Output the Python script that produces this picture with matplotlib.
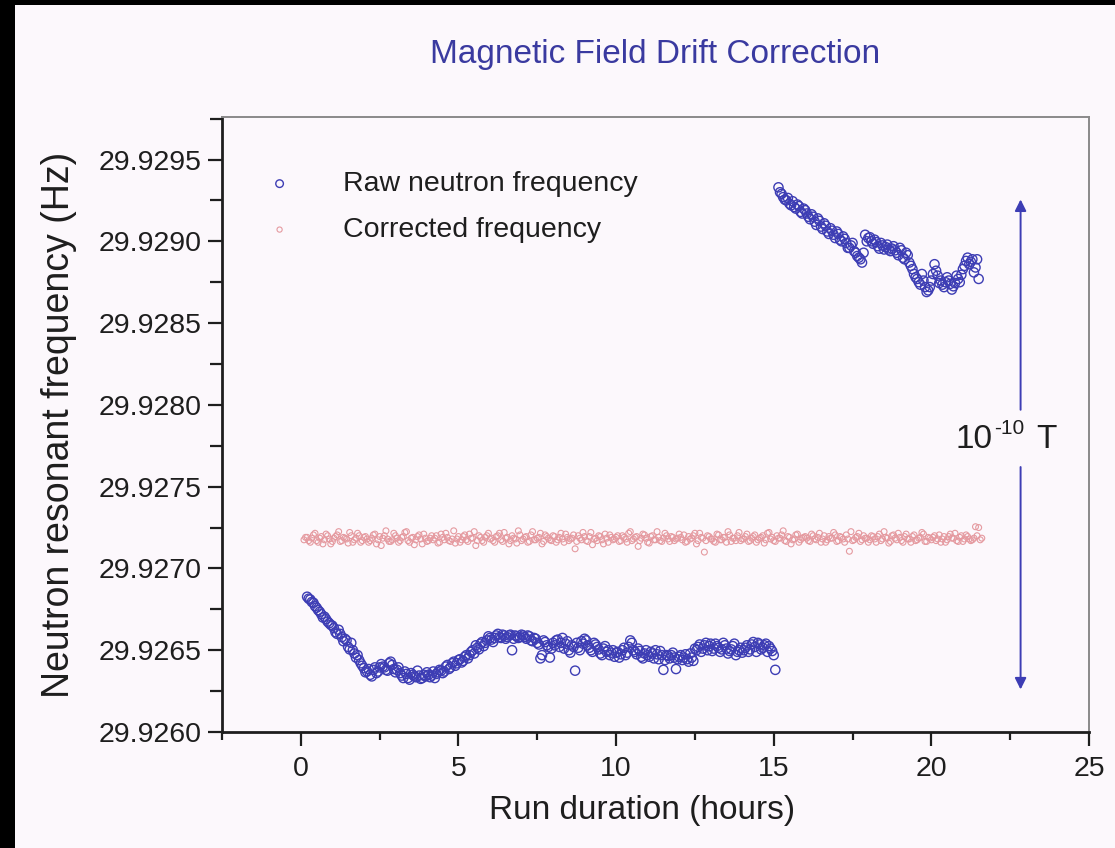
import matplotlib
matplotlib.use("Agg")
import matplotlib.pyplot as plt
from matplotlib.patches import Rectangle
from matplotlib.ticker import MultipleLocator, FormatStrFormatter

plt.rcParams['font.family'] = ['Liberation Sans', 'DejaVu Sans']

# ---------------- data (frequency offsets in micro-Hz above 29.926000 Hz) ----------------
BASE_HZ = 29.926

# raw neutron frequency, first run segment (two interleaved read-outs)
raw1_hours = [0.2, 0.3, 0.4, 0.5, 0.6, 0.7, 0.8, 0.9, 1.0,
              1.1, 1.2, 1.3, 1.4, 1.5, 1.6, 1.7, 1.8, 1.9, 2.0,
              2.1, 2.2, 2.3, 2.4, 2.5, 2.6, 2.7, 2.8, 2.9, 3.0,
              3.1, 3.2, 3.3, 3.4, 3.5, 3.6, 3.7, 3.8, 3.9, 4.0,
              4.1, 4.2, 4.3, 4.4, 4.5, 4.6, 4.7, 4.8, 4.9, 5.0,
              5.1, 5.2, 5.3, 5.4, 5.5, 5.6, 5.7, 5.8, 5.9, 6.0,
              6.1, 6.2, 6.3, 6.4, 6.5, 6.6, 6.7, 6.8, 6.9, 7.0,
              7.1, 7.2, 7.3, 7.4, 7.5, 7.6, 7.7, 7.8, 7.9, 8.0,
              8.1, 8.2, 8.3, 8.4, 8.5, 8.6, 8.7, 8.8, 8.9, 9.0,
              9.1, 9.2, 9.3, 9.4, 9.5, 9.6, 9.7, 9.8, 9.9, 10.0,
              10.1, 10.2, 10.3, 10.4, 10.5, 10.6, 10.7, 10.8, 10.9, 11.0,
              11.1, 11.2, 11.3, 11.4, 11.5, 11.6, 11.7, 11.8, 11.9, 12.0,
              12.1, 12.2, 12.3, 12.4, 12.5, 12.6, 12.7, 12.8, 12.9, 13.0,
              13.1, 13.2, 13.3, 13.4, 13.5, 13.6, 13.7, 13.8, 13.9, 14.0,
              14.1, 14.2, 14.3, 14.4, 14.5, 14.6, 14.7, 14.8, 14.9, 15.0,
              15.05]
raw1_uhz = [827, 810, 790, 760, 735, 700, 690, 665, 650,
            610, 625, 580, 570, 520, 545, 480, 470, 420, 390,
            370, 350, 380, 360, 395, 400, 380, 420, 410, 365,
            395, 345, 370, 330, 360, 340, 375, 325, 350, 365,
            335, 370, 355, 380, 360, 400, 385, 420, 405, 440,
            425, 460, 450, 490, 480, 515, 540, 525, 560, 575,
            550, 590, 580, 595, 570, 590, 500, 590, 575, 595,
            580, 590, 560, 575, 545, 450, 560, 530, 455, 545,
            560, 520, 575, 540, 500, 530, 375, 515, 555, 570,
            530, 500, 545, 520, 480, 510, 490, 470, 500, 485,
            455, 500, 470, 520, 545, 490, 510, 460, 480, 470,
            490, 450, 475, 495, 380, 470, 450, 485, 385, 460,
            440, 475, 430, 455, 510, 520, 490, 530, 500, 540,
            510, 525, 490, 545, 510, 495, 525, 470, 500, 485,
            515, 490, 535, 520, 545, 505, 530, 490, 510, 470,
            380]
raw1b_hours = [0.25, 0.35, 0.45, 0.55, 0.65, 0.75, 0.85, 0.95,
               1.05, 1.15, 1.25, 1.35, 1.45, 1.55, 1.65, 1.75, 1.85, 1.95,
               2.05, 2.15, 2.25, 2.35, 2.45, 2.55, 2.65, 2.75, 2.85, 2.95,
               3.05, 3.15, 3.25, 3.35, 3.45, 3.55, 3.65, 3.75, 3.85, 3.95,
               4.05, 4.15, 4.25, 4.35, 4.45, 4.55, 4.65, 4.75, 4.85, 4.95,
               5.05, 5.15, 5.25, 5.35, 5.45, 5.55, 5.65, 5.75, 5.85, 5.95,
               6.05, 6.15, 6.25, 6.35, 6.45, 6.55, 6.65, 6.75, 6.85, 6.95,
               7.05, 7.15, 7.25, 7.35, 7.45, 7.55, 7.65, 7.75, 7.85, 7.95,
               8.05, 8.15, 8.25, 8.35, 8.45, 8.55, 8.65, 8.75, 8.85, 8.95,
               9.05, 9.15, 9.25, 9.35, 9.45, 9.55, 9.65, 9.75, 9.85, 9.95,
               10.05, 10.15, 10.25, 10.35, 10.45, 10.55, 10.65, 10.75, 10.85, 10.95,
               11.05, 11.15, 11.25, 11.35, 11.45, 11.55, 11.65, 11.75, 11.85, 11.95,
               12.05, 12.15, 12.25, 12.35, 12.45, 12.55, 12.65, 12.75, 12.85, 12.95,
               13.05, 13.15, 13.25, 13.35, 13.45, 13.55, 13.65, 13.75, 13.85, 13.95,
               14.05, 14.15, 14.25, 14.35, 14.45, 14.55, 14.65, 14.75, 14.85, 14.95]
raw1b_uhz = [815, 795, 770, 745, 720, 705, 675, 655,
             635, 600, 600, 555, 560, 505, 500, 455, 440, 405,
             365, 385, 340, 395, 370, 415, 395, 375, 430, 385,
             380, 360, 330, 355, 320, 350, 335, 345, 330, 340,
             350, 345, 330, 365, 375, 370, 410, 395, 430, 420,
             445, 435, 470, 470, 500, 530, 505, 550, 545, 585,
             565, 575, 600, 575, 590, 580, 595, 570, 585, 580,
             590, 570, 585, 555, 570, 535, 470, 550, 520, 510,
             530, 565, 545, 510, 555, 485, 520, 545, 500, 540,
             560, 515, 490, 535, 505, 470, 525, 500, 485, 460,
             490, 475, 515, 485, 560, 500, 475, 495, 450, 500,
             460, 480, 500, 445, 470, 440, 465, 470, 455, 445,
             470, 455, 445, 480, 435, 500, 535, 510, 545, 525,
             495, 540, 515, 505, 530, 480, 505, 540, 490, 515,
             500, 530, 505, 550, 490, 535, 515, 540, 525, 495]

# raw neutron frequency, second run segment
raw2_hours = [15.15,
              15.2, 15.3, 15.4, 15.5, 15.6, 15.7, 15.8, 15.9, 16.0,
              16.1, 16.2, 16.3, 16.4, 16.5, 16.6, 16.7, 16.8, 16.9, 17.0,
              17.1, 17.2, 17.3, 17.4, 17.5, 17.6, 17.7, 17.8, 17.9, 18.0,
              18.1, 18.2, 18.3, 18.4, 18.5, 18.6, 18.7, 18.8, 18.9, 19.0,
              19.1, 19.2, 19.3, 19.4, 19.5, 19.6, 19.7, 19.8, 19.9, 20.0,
              20.1, 20.2, 20.3, 20.4, 20.5, 20.6, 20.7, 20.8, 20.9, 21.0,
              21.1, 21.2, 21.3, 21.4, 21.5]
raw2_uhz = [3330,
            3300, 3270, 3250, 3230, 3245, 3200, 3215, 3170, 3190,
            3150, 3165, 3120, 3140, 3090, 3110, 3060, 3080, 3040, 3060,
            3010, 3030, 2990, 2960, 2990, 2930, 2900, 2870, 3040, 3020,
            3000, 3010, 2970, 2990, 2950, 2980, 2940, 2970, 2930, 2960,
            2900, 2930, 2870, 2830, 2780, 2750, 2800, 2720, 2700, 2760,
            2860, 2790, 2760, 2720, 2780, 2740, 2725, 2790, 2750, 2830,
            2880, 2860, 2890, 2840, 2770]
raw2b_hours = [15.25, 15.35, 15.45, 15.55, 15.65, 15.75, 15.85, 15.95,
               16.05, 16.15, 16.25, 16.35, 16.45, 16.55, 16.65, 16.75, 16.85, 16.95,
               17.05, 17.15, 17.25, 17.35, 17.45, 17.55, 17.65, 17.75, 17.85, 17.95,
               18.05, 18.15, 18.25, 18.35, 18.45, 18.55, 18.65, 18.75, 18.85, 18.95,
               19.05, 19.15, 19.25, 19.35, 19.45, 19.55, 19.65, 19.75, 19.85, 19.95,
               20.05, 20.15, 20.25, 20.35, 20.45, 20.55, 20.65, 20.75, 20.85, 20.95,
               21.05, 21.15, 21.25, 21.35, 21.45]
raw2b_uhz = [3290, 3255, 3265, 3220, 3210, 3225, 3180, 3200,
             3170, 3135, 3150, 3100, 3125, 3075, 3095, 3045, 3065, 3020,
             3045, 3000, 3015, 2960, 2975, 2940, 2910, 2890, 2930, 3000,
             3025, 2985, 2995, 2955, 2975, 2965, 2950, 2955, 2945, 2915,
             2945, 2890, 2915, 2850, 2800, 2770, 2735, 2760, 2690, 2720,
             2800, 2820, 2745, 2735, 2750, 2760, 2705, 2745, 2770, 2795,
             2850, 2900, 2875, 2810, 2890]

# corrected frequency
corr_hours = [0.1, 0.2, 0.3, 0.4, 0.5, 0.6, 0.7, 0.8, 0.9, 1.0,
              1.1, 1.2, 1.3, 1.4, 1.5, 1.6, 1.7, 1.8, 1.9, 2.0,
              2.1, 2.2, 2.3, 2.4, 2.5, 2.6, 2.7, 2.8, 2.9, 3.0,
              3.1, 3.2, 3.3, 3.4, 3.5, 3.6, 3.7, 3.8, 3.9, 4.0,
              4.1, 4.2, 4.3, 4.4, 4.5, 4.6, 4.7, 4.8, 4.9, 5.0,
              5.1, 5.2, 5.3, 5.4, 5.5, 5.6, 5.7, 5.8, 5.9, 6.0,
              6.1, 6.2, 6.3, 6.4, 6.5, 6.6, 6.7, 6.8, 6.9, 7.0,
              7.1, 7.2, 7.3, 7.4, 7.5, 7.6, 7.7, 7.8, 7.9, 8.0,
              8.1, 8.2, 8.3, 8.4, 8.5, 8.6, 8.7, 8.8, 8.9, 9.0,
              9.1, 9.2, 9.3, 9.4, 9.5, 9.6, 9.7, 9.8, 9.9, 10.0,
              10.1, 10.2, 10.3, 10.4, 10.5, 10.6, 10.7, 10.8, 10.9, 11.0,
              11.1, 11.2, 11.3, 11.4, 11.5, 11.6, 11.7, 11.8, 11.9, 12.0,
              12.1, 12.2, 12.3, 12.4, 12.5, 12.6, 12.7, 12.8, 12.9, 13.0,
              13.1, 13.2, 13.3, 13.4, 13.5, 13.6, 13.7, 13.8, 13.9, 14.0,
              14.1, 14.2, 14.3, 14.4, 14.5, 14.6, 14.7, 14.8, 14.9, 15.0,
              15.1, 15.2, 15.3, 15.4, 15.5, 15.6, 15.7, 15.8, 15.9, 16.0,
              16.1, 16.2, 16.3, 16.4, 16.5, 16.6, 16.7, 16.8, 16.9, 17.0,
              17.1, 17.2, 17.3, 17.4, 17.5, 17.6, 17.7, 17.8, 17.9, 18.0,
              18.1, 18.2, 18.3, 18.4, 18.5, 18.6, 18.7, 18.8, 18.9, 19.0,
              19.1, 19.2, 19.3, 19.4, 19.5, 19.6, 19.7, 19.8, 19.9, 20.0,
              20.1, 20.2, 20.3, 20.4, 20.5, 20.6, 20.7, 20.8, 20.9, 21.0,
              21.1, 21.2, 21.3, 21.4, 21.5, 21.6]
corr_uhz = [1175, 1190, 1160, 1205, 1170, 1185, 1150, 1210, 1180, 1165,
            1195, 1225, 1170, 1185, 1155, 1200, 1175, 1215, 1160, 1190,
            1180, 1170, 1205, 1150, 1195, 1185, 1230, 1165, 1175, 1200,
            1160, 1190, 1220, 1170, 1185, 1145, 1195, 1180, 1210, 1165,
            1185, 1175, 1200, 1160, 1190, 1215, 1170, 1180, 1155, 1195,
            1175, 1205, 1165, 1185, 1225, 1170, 1190, 1160, 1200, 1180,
            1170, 1195, 1215, 1165, 1185, 1150, 1200, 1180, 1230, 1170,
            1190, 1160, 1205, 1175, 1185, 1215, 1165, 1195, 1175, 1200,
            1160, 1190, 1180, 1210, 1170, 1185, 1120, 1200, 1175, 1195,
            1165, 1220, 1180, 1170, 1195, 1150, 1185, 1205, 1175, 1190,
            1165, 1200, 1180, 1215, 1170, 1190, 1135, 1185, 1205, 1160,
            1195, 1175, 1225, 1170, 1185, 1200, 1165, 1190, 1180, 1210,
            1175, 1160, 1195, 1185, 1215, 1170, 1190, 1100, 1200, 1180,
            1165, 1210, 1175, 1190, 1160, 1205, 1185, 1170, 1220, 1180,
            1195, 1165, 1185, 1205, 1175, 1190, 1155, 1215, 1180, 1170,
            1200, 1185, 1230, 1165, 1190, 1175, 1205, 1160, 1185, 1195,
            1170, 1210, 1180, 1190, 1160, 1200, 1175, 1185, 1220, 1165,
            1195, 1180, 1205, 1105, 1170, 1190, 1215, 1175, 1185, 1160,
            1200, 1180, 1195, 1170, 1225, 1185, 1165, 1205, 1175, 1190,
            1160, 1210, 1180, 1195, 1170, 1185, 1220, 1165, 1190, 1175,
            1200, 1180, 1160, 1195, 1175, 1210, 1185, 1170, 1190, 1165,
            1205, 1180, 1175, 1255, 1250, 1185]
corrb_hours = [0.15, 0.25, 0.35, 0.45, 0.55, 0.65, 0.75, 0.85, 0.95,
               1.05, 1.15, 1.25, 1.35, 1.45, 1.55, 1.65, 1.75, 1.85, 1.95,
               2.05, 2.15, 2.25, 2.35, 2.45, 2.55, 2.65, 2.75, 2.85, 2.95,
               3.05, 3.15, 3.25, 3.35, 3.45, 3.55, 3.65, 3.75, 3.85, 3.95,
               4.05, 4.15, 4.25, 4.35, 4.45, 4.55, 4.65, 4.75, 4.85, 4.95,
               5.05, 5.15, 5.25, 5.35, 5.45, 5.55, 5.65, 5.75, 5.85, 5.95,
               6.05, 6.15, 6.25, 6.35, 6.45, 6.55, 6.65, 6.75, 6.85, 6.95,
               7.05, 7.15, 7.25, 7.35, 7.45, 7.55, 7.65, 7.75, 7.85, 7.95,
               8.05, 8.15, 8.25, 8.35, 8.45, 8.55, 8.65, 8.75, 8.85, 8.95,
               9.05, 9.15, 9.25, 9.35, 9.45, 9.55, 9.65, 9.75, 9.85, 9.95,
               10.05, 10.15, 10.25, 10.35, 10.45, 10.55, 10.65, 10.75, 10.85, 10.95,
               11.05, 11.15, 11.25, 11.35, 11.45, 11.55, 11.65, 11.75, 11.85, 11.95,
               12.05, 12.15, 12.25, 12.35, 12.45, 12.55, 12.65, 12.75, 12.85, 12.95,
               13.05, 13.15, 13.25, 13.35, 13.45, 13.55, 13.65, 13.75, 13.85, 13.95,
               14.05, 14.15, 14.25, 14.35, 14.45, 14.55, 14.65, 14.75, 14.85, 14.95,
               15.05, 15.15, 15.25, 15.35, 15.45, 15.55, 15.65, 15.75, 15.85, 15.95,
               16.05, 16.15, 16.25, 16.35, 16.45, 16.55, 16.65, 16.75, 16.85, 16.95,
               17.05, 17.15, 17.25, 17.35, 17.45, 17.55, 17.65, 17.75, 17.85, 17.95,
               18.05, 18.15, 18.25, 18.35, 18.45, 18.55, 18.65, 18.75, 18.85, 18.95,
               19.05, 19.15, 19.25, 19.35, 19.45, 19.55, 19.65, 19.75, 19.85, 19.95,
               20.05, 20.15, 20.25, 20.35, 20.45, 20.55, 20.65, 20.75, 20.85, 20.95,
               21.05, 21.15, 21.25, 21.35, 21.45, 21.55]
corrb_uhz = [1190, 1170, 1185, 1215, 1160, 1195, 1175, 1200, 1150,
             1185, 1205, 1165, 1190, 1180, 1220, 1160, 1185, 1200, 1170,
             1195, 1160, 1185, 1210, 1175, 1140, 1200, 1180, 1165, 1215,
             1185, 1170, 1195, 1225, 1160, 1190, 1175, 1205, 1150, 1185,
             1170, 1200, 1185, 1155, 1210, 1175, 1190, 1165, 1230, 1180,
             1160, 1195, 1175, 1210, 1185, 1140, 1200, 1170, 1190, 1215,
             1185, 1160, 1200, 1175, 1220, 1190, 1170, 1185, 1155, 1205,
             1180, 1195, 1165, 1225, 1175, 1190, 1150, 1205, 1185, 1170,
             1195, 1175, 1215, 1160, 1190, 1180, 1205, 1165, 1185, 1220,
             1170, 1195, 1145, 1185, 1200, 1175, 1210, 1160, 1190, 1180,
             1200, 1170, 1190, 1160, 1225, 1180, 1195, 1170, 1210, 1185,
             1155, 1200, 1175, 1190, 1165, 1215, 1180, 1195, 1170, 1185,
             1190, 1205, 1165, 1180, 1200, 1150, 1215, 1185, 1170, 1195,
             1180, 1160, 1205, 1175, 1190, 1225, 1165, 1185, 1200, 1170,
             1180, 1210, 1170, 1195, 1160, 1185, 1200, 1175, 1220, 1190,
             1165, 1185, 1205, 1170, 1195, 1150, 1180, 1210, 1175, 1190,
             1185, 1165, 1200, 1175, 1215, 1180, 1160, 1195, 1185, 1205,
             1170, 1190, 1160, 1180, 1225, 1175, 1195, 1165, 1200, 1185,
             1175, 1195, 1160, 1210, 1180, 1190, 1155, 1200, 1185, 1215,
             1170, 1195, 1180, 1160, 1205, 1175, 1190, 1210, 1165, 1185,
             1190, 1170, 1205, 1180, 1160, 1195, 1185, 1215, 1165, 1200,
             1180, 1195, 1170, 1185, 1200, 1175]

y_ticks_hz = [29.9260, 29.9265, 29.9270, 29.9275, 29.9280, 29.9285, 29.9290, 29.9295]
x_ticks_h = [0, 5, 10, 15, 20, 25]


def to_hz(vals):
    return [BASE_HZ + v * 1e-6 for v in vals]


# ---------------- figure ----------------
BG = '#fcf8fc'
BLUE = '#3d3db4'
PINK = '#e59aa0'
TXT = '#1e1e1e'

fig = plt.figure(figsize=(11.15, 8.48), dpi=100, facecolor=BG)
ax = fig.add_axes([222/1115, 1 - 732/848, (1089 - 222)/1115, (732 - 117)/848])
ax.set_facecolor(BG)

raw_style = dict(s=44, facecolors='none', edgecolors=BLUE, linewidths=1.0, zorder=3)
corr_style = dict(s=18, facecolors='none', edgecolors=PINK, linewidths=0.8, zorder=3)

ax.scatter(raw1_hours + raw1b_hours, to_hz(raw1_uhz + raw1b_uhz),
           label='Raw neutron frequency', **raw_style)
ax.scatter(raw2_hours + raw2b_hours, to_hz(raw2_uhz + raw2b_uhz), **raw_style)
ax.scatter(corr_hours + corrb_hours, to_hz(corr_uhz + corrb_uhz),
           label='Corrected frequency', **corr_style)

ax.set_xlim(-2.5, 25)
ax.set_ylim(29.9260, 29.92976)

ax.set_xticks(x_ticks_h)
ax.xaxis.set_minor_locator(MultipleLocator(2.5))
ax.set_yticks(y_ticks_hz)
ax.yaxis.set_minor_locator(MultipleLocator(0.00025))
ax.yaxis.set_major_formatter(FormatStrFormatter('%.4f'))

ax.tick_params(axis='both', which='major', direction='out', length=10, width=1.6,
               labelsize=20.5, colors=TXT, pad=5)
ax.tick_params(axis='y', which='minor', direction='out', length=9, width=1.6, colors=TXT)
ax.tick_params(axis='x', which='minor', direction='out', length=6, width=1.6, colors=TXT)
ax.tick_params(axis='x', which='major', pad=7)

for side in ('left', 'bottom'):
    ax.spines[side].set_linewidth(2.0)
    ax.spines[side].set_color(TXT)
for side in ('top', 'right'):
    ax.spines[side].set_linewidth(1.4)
    ax.spines[side].set_color('#8a8a8a')

ax.set_xlabel('Run duration (hours)', fontsize=24, color=TXT, labelpad=10)
ax.xaxis.label.set_x(0.484)
ax.set_ylabel('Neutron resonant frequency (Hz)', fontsize=27, color=TXT, labelpad=15)
ax.set_title('Magnetic Field Drift Correction', fontsize=24, color='#3a3aa0', pad=39)

leg = ax.legend(loc='upper left', bbox_to_anchor=(0.05, 0.912), frameon=False,
                fontsize=20.5, handlelength=1.0, handletextpad=1.72, labelspacing=0.7,
                borderpad=0, borderaxespad=0, scatterpoints=1)
for t in leg.get_texts():
    t.set_color(TXT)
leg.legend_handles[0].set_sizes([30])
leg.legend_handles[1].set_sizes([14])

# field-scale arrow (10^-10 T)
ARROW_X = 22.83
arrow_style = dict(arrowstyle='-|>', color=BLUE, lw=1.4, mutation_scale=17,
                   shrinkA=0, shrinkB=0)
ax.annotate('', xy=(ARROW_X, 29.929256), xytext=(ARROW_X, 29.92797),
            arrowprops=arrow_style)
ax.annotate('', xy=(ARROW_X, 29.92626), xytext=(ARROW_X, 29.92762),
            arrowprops=arrow_style)
ax.text(20.78, 29.927738, '10', fontsize=24, color=TXT, ha='left', va='baseline')
ax.text(21.99, 29.927823, '-10', fontsize=15, color=TXT, ha='left', va='baseline')
ax.text(23.33, 29.927738, 'T', fontsize=24, color=TXT, ha='left', va='baseline')

# scanned black edges
fig.patches.append(Rectangle((0, 0), 15/1115, 1, transform=fig.transFigure,
                             facecolor='black', edgecolor='none', zorder=10))
fig.patches.append(Rectangle((0, 1 - 5/848), 1, 5/848, transform=fig.transFigure,
                             facecolor='black', edgecolor='none', zorder=10))

fig.savefig('out.png', dpi=100, facecolor=BG)
